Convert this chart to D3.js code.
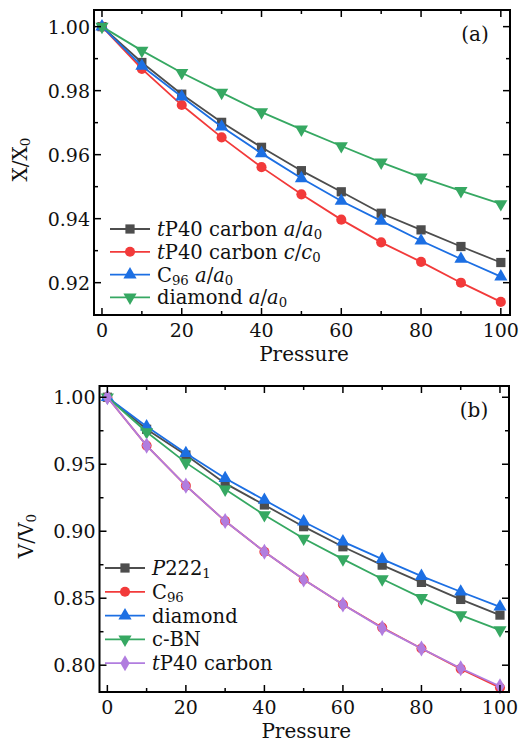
<!DOCTYPE html>
<html>
<head>
<meta charset="utf-8">
<script src="https://cdn.jsdelivr.net/npm/d3@7"></script>
<style>
  body { margin: 0; background: #fff; }
  svg { display: block; }
  text { font-family: "DejaVu Serif", serif; fill: #111; }
</style>
</head>
<body>
<script>
// pressure points shared by both panels
const pressure = [0, 10, 20, 30, 40, 50, 60, 70, 80, 90, 100];

// panel (a): lattice parameter ratios
const tp40A = [1.0, 0.9888, 0.9789, 0.9701, 0.9623, 0.955, 0.9484, 0.9417, 0.9365, 0.9313, 0.9263];
const tp40C = [1.0, 0.9868, 0.9755, 0.9654, 0.9561, 0.9476, 0.9397, 0.9326, 0.9265, 0.92, 0.914];
const c96A = [1.0, 0.9877, 0.9781, 0.9687, 0.9604, 0.9526, 0.9455, 0.9393, 0.9331, 0.9274, 0.9219];
const diamondA = [1.0, 0.9925, 0.9856, 0.9794, 0.9733, 0.9679, 0.9627, 0.9576, 0.9529, 0.9487, 0.9446];

// panel (b): volume ratios
const p2221V = [1.0, 0.9761, 0.9569, 0.9357, 0.9196, 0.9034, 0.8884, 0.8747, 0.8618, 0.8491, 0.8374];
const c96V = [1.0, 0.9639, 0.934, 0.9076, 0.8847, 0.864, 0.8453, 0.8281, 0.8125, 0.7973, 0.7833];
const diamondV = [1.0, 0.9781, 0.9582, 0.9395, 0.9233, 0.9071, 0.8922, 0.8792, 0.8665, 0.8548, 0.8436];
const cbnV = [1.0, 0.9741, 0.9512, 0.9313, 0.9121, 0.8946, 0.8792, 0.8643, 0.8503, 0.8374, 0.8262];
const tp40V = [1.0, 0.9639, 0.934, 0.9076, 0.8847, 0.864, 0.8453, 0.8277, 0.8125, 0.7977, 0.7843];

const xTicks = [0, 20, 40, 60, 80, 100];
const yTicksA = [0.92, 0.94, 0.96, 0.98, 1.0];
const yTicksB = [0.8, 0.85, 0.9, 0.95, 1.0];

const COLORS = {
  gray: "#4d4d4d",
  red: "#f23a3a",
  blue: "#1c6fe3",
  green: "#36a862",
  purple: "#b17ddf"
};

const svg = d3.select("body").append("svg").attr("width", 521).attr("height", 742);

const symbols = {
  square: d3.symbol().type(d3.symbolSquare).size(85),
  circle: d3.symbol().type(d3.symbolCircle).size(80),
  triUp: d3.symbol().type(d3.symbolTriangle).size(75),
  triDown: d3.symbol().type(d3.symbolTriangle).size(75),
  diamond: d3.symbol().type(d3.symbolDiamond).size(75)
};

function drawMarker(g, type, x, y, color) {
  g.append("path")
    .attr("d", symbols[type]())
    .attr("transform", `translate(${x},${y})` + (type === "triDown" ? " rotate(180)" : ""))
    .attr("fill", color);
}

// label pieces: [text, style] where style is "i" italic, "s" subscript, "" roman
function writeLabel(text, parts, size) {
  let shifted = false;
  parts.forEach(([t, s]) => {
    const ts = text.append("tspan").text(t);
    if (s === "i") ts.attr("font-style", "italic");
    if (s === "s") {
      ts.attr("font-size", size * 0.68);
      if (!shifted) ts.attr("dy", 3);
      shifted = true;
    } else if (shifted) {
      ts.attr("dy", -3);
      shifted = false;
    }
  });
}

function drawPanel(cfg) {
  const { box, yDomain, yTicks, yMinor, series, legend, legendX, legendY, legendStep, tag, ylab, tickFmt } = cfg;

  const x = d3.scaleLinear().domain([-2, 102.3]).range([box.left, box.right]);
  const y = d3.scaleLinear().domain(yDomain).range([box.bottom, box.top]);

  const g = svg.append("g");

  // lines and markers
  const line = d3.line().x((d, i) => x(pressure[i])).y((d) => y(d));
  series.forEach((s) => {
    g.append("path")
      .attr("d", line(s.values))
      .attr("fill", "none")
      .attr("stroke", s.color)
      .attr("stroke-width", 1.8);
    s.values.forEach((v, i) => drawMarker(g, s.marker, x(pressure[i]), y(v), s.color));
  });

  // frame
  g.append("rect")
    .attr("x", box.left).attr("y", box.top)
    .attr("width", box.right - box.left).attr("height", box.bottom - box.top)
    .attr("fill", "none").attr("stroke", "#000").attr("stroke-width", 2);

  // inward ticks on all four sides
  const xMinor = [10, 30, 50, 70, 90];
  const tk = g.append("g").attr("stroke", "#000").attr("stroke-width", 1.5);
  xTicks.concat(xMinor).forEach((v) => {
    const len = xTicks.includes(v) ? 7 : 4;
    tk.append("line").attr("x1", x(v)).attr("x2", x(v)).attr("y1", box.bottom).attr("y2", box.bottom - len);
    tk.append("line").attr("x1", x(v)).attr("x2", x(v)).attr("y1", box.top).attr("y2", box.top + len);
  });
  yTicks.concat(yMinor).forEach((v) => {
    const len = yTicks.includes(v) ? 7 : 4;
    tk.append("line").attr("y1", y(v)).attr("y2", y(v)).attr("x1", box.left).attr("x2", box.left + len);
    tk.append("line").attr("y1", y(v)).attr("y2", y(v)).attr("x1", box.right).attr("x2", box.right - len);
  });

  // tick labels
  xTicks.forEach((v) => {
    g.append("text").attr("x", x(v)).attr("y", box.bottom + 22)
      .attr("text-anchor", "middle").attr("font-size", 19).text(v);
  });
  yTicks.forEach((v) => {
    g.append("text").attr("x", box.left - 4).attr("y", y(v) + 7)
      .attr("text-anchor", "end").attr("font-size", 19).text(d3.format(tickFmt)(v));
  });

  // axis titles
  g.append("text").attr("x", (box.left + box.right) / 2 + 2).attr("y", box.bottom + 46)
    .attr("text-anchor", "middle").attr("font-size", 20).text("Pressure");
  const yl = g.append("text")
    .attr("transform", `translate(${ylab.x},${(box.top + box.bottom) / 2 - 3}) rotate(-90)`)
    .attr("text-anchor", "middle").attr("font-size", 20);
  writeLabel(yl, ylab.parts, 20);

  g.append("text").attr("x", box.right - 35).attr("y", box.top + 31)
    .attr("text-anchor", "middle").attr("font-size", 20).text(tag);

  // legend
  legend.forEach((item, i) => {
    const s = series[item.index];
    const ly = legendY + i * legendStep;
    g.append("line").attr("x1", legendX).attr("x2", legendX + 40).attr("y1", ly).attr("y2", ly)
      .attr("stroke", s.color).attr("stroke-width", 1.8);
    drawMarker(g, s.marker, legendX + 20, ly, s.color);
    const t = g.append("text").attr("x", legendX + 47).attr("y", ly + 7).attr("font-size", 19.5);
    writeLabel(t, item.parts, 19.5);
  });
}

drawPanel({
  box: { left: 94, right: 510, top: 10, bottom: 315 },
  yDomain: [0.9099, 1.0052],
  yTicks: yTicksA,
  yMinor: [0.93, 0.95, 0.97, 0.99],
  tickFmt: ".2f",
  tag: "(a)",
  ylab: { x: 27, parts: [["X/X", ""], ["0", "s"]] },
  series: [
    { values: tp40A, color: COLORS.gray, marker: "square" },
    { values: tp40C, color: COLORS.red, marker: "circle" },
    { values: c96A, color: COLORS.blue, marker: "triUp" },
    { values: diamondA, color: COLORS.green, marker: "triDown" }
  ],
  legendX: 110,
  legendY: 229,
  legendStep: 22.8,
  legend: [
    { index: 0, parts: [["t", "i"], ["P40 carbon ", ""], ["a", "i"], ["/", ""], ["a", "i"], ["0", "s"]] },
    { index: 1, parts: [["t", "i"], ["P40 carbon ", ""], ["c", "i"], ["/", ""], ["c", "i"], ["0", "s"]] },
    { index: 2, parts: [["C", ""], ["96", "s"], [" ", ""], ["a", "i"], ["/", ""], ["a", "i"], ["0", "s"]] },
    { index: 3, parts: [["diamond ", ""], ["a", "i"], ["/", ""], ["a", "i"], ["0", "s"]] }
  ]
});

drawPanel({
  box: { left: 99.5, right: 509, top: 386, bottom: 692 },
  yDomain: [0.78, 1.0084],
  yTicks: yTicksB,
  yMinor: [0.825, 0.875, 0.925, 0.975],
  tickFmt: ".2f",
  tag: "(b)",
  ylab: { x: 33, parts: [["V/V", ""], ["0", "s"]] },
  series: [
    { values: p2221V, color: COLORS.gray, marker: "square" },
    { values: c96V, color: COLORS.red, marker: "circle" },
    { values: diamondV, color: COLORS.blue, marker: "triUp" },
    { values: cbnV, color: COLORS.green, marker: "triDown" },
    { values: tp40V, color: COLORS.purple, marker: "diamond" }
  ],
  legendX: 105,
  legendY: 568,
  legendStep: 23.8,
  legend: [
    { index: 0, parts: [["P", "i"], ["222", ""], ["1", "s"]] },
    { index: 1, parts: [["C", ""], ["96", "s"]] },
    { index: 2, parts: [["diamond", ""]] },
    { index: 3, parts: [["c-BN", ""]] },
    { index: 4, parts: [["t", "i"], ["P40 carbon", ""]] }
  ]
});
</script>
</body>
</html>
